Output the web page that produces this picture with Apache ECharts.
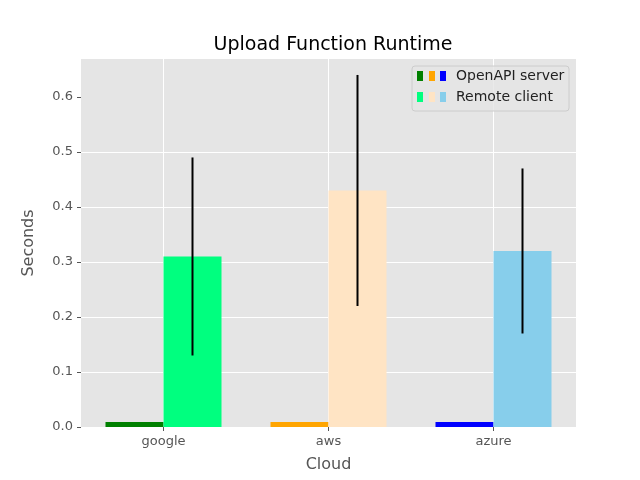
<!DOCTYPE html>
<html>
<head>
<meta charset="utf-8">
<script src="https://cdn.jsdelivr.net/npm/echarts@6/dist/echarts.min.js"></script>
<style>
  html, body { margin: 0; padding: 0; background: #fff; }
  #main { width: 640px; height: 480px; }
</style>
</head>
<body>
<div id="main"></div>
<script>
  // data
  var clouds = ['google', 'aws', 'azure'];
  var serverMean = [0.009, 0.009, 0.009];
  var clientMean = [0.31, 0.43, 0.32];
  var clientLow = [0.13, 0.22, 0.17];
  var clientHigh = [0.49, 0.64, 0.47];
  var yTicks = [0, 0.1, 0.2, 0.3, 0.4, 0.5, 0.6];
  var serverColors = ['#008000', '#ffa500', '#0000ff'];
  var clientColors = ['#00ff7f', '#ffe4c4', '#87ceeb'];

  var myChart = echarts.init(document.getElementById('main'));
  var font = 'DejaVu Sans';

  var errData = clouds.map(function (c, i) {
    return [i, clientLow[i], clientHigh[i]];
  });

  var option = {
    animation: false,
    title: {
      text: 'Upload Function Runtime',
      left: 328,
      top: 31,
      textAlign: 'center',
      textStyle: { color: '#000', fontSize: 19, fontWeight: 'normal', fontFamily: font }
    },
    grid: {
      left: 81, right: 64, top: 59, bottom: 53,
      show: true, backgroundColor: '#e5e5e5', borderWidth: 0
    },
    xAxis: {
      type: 'category',
      data: clouds,
      name: 'Cloud',
      nameLocation: 'middle',
      nameGap: 30,
      nameTextStyle: { color: '#555', fontSize: 16, fontFamily: font },
      axisLine: { show: false },
      axisTick: { show: true, alignWithLabel: true, length: 4, lineStyle: { color: '#555' } },
      axisLabel: { color: '#555', fontSize: 13, fontFamily: font, margin: 8 },
      splitLine: { show: true, alignWithLabel: true, lineStyle: { color: '#fff', width: 1 } }
    },
    yAxis: {
      type: 'value',
      min: 0,
      max: 0.669,
      interval: 0.1,
      name: 'Seconds',
      nameLocation: 'middle',
      nameGap: 44,
      nameTextStyle: { color: '#555', fontSize: 16, fontFamily: font },
      axisLine: { show: false },
      axisTick: { show: true, length: 4, customValues: yTicks, lineStyle: { color: '#555' } },
      axisLabel: {
        color: '#555', fontSize: 13, fontFamily: font, margin: 8,
        customValues: yTicks,
        formatter: function (v) { return v.toFixed(1); }
      },
      splitLine: { show: true, showMaxLine: false, lineStyle: { color: '#fff', width: 1 } }
    },
    series: [
      {
        name: 'OpenAPI server',
        type: 'bar',
        barWidth: 58,
        barGap: '0%',
        data: serverMean.map(function (v, i) {
          return { value: v, itemStyle: { color: serverColors[i] } };
        }),
        z: 2
      },
      {
        name: 'Remote client',
        type: 'bar',
        barWidth: 58,
        barGap: '0%',
        data: clientMean.map(function (v, i) {
          return { value: v, itemStyle: { color: clientColors[i] } };
        }),
        z: 2
      },
      {
        type: 'custom',
        z: 5,
        data: errData,
        renderItem: function (params, api) {
          var lo = api.coord([api.value(0), api.value(1)]);
          var hi = api.coord([api.value(0), api.value(2)]);
          var x = lo[0] + 29;
          return {
            type: 'line',
            shape: { x1: x, y1: lo[1], x2: x, y2: hi[1] },
            style: { stroke: '#000', lineWidth: 2 }
          };
        }
      }
    ],
    graphic: [
      { type: 'rect', shape: { x: 412, y: 66, width: 157, height: 45, r: 3 },
        style: { fill: 'rgba(229,229,229,0.8)', stroke: '#cccccc', lineWidth: 1 }, z: 10 },
      { type: 'rect', shape: { x: 417, y: 71, width: 6, height: 10 }, style: { fill: serverColors[0] }, z: 11 },
      { type: 'rect', shape: { x: 429, y: 71, width: 6, height: 10 }, style: { fill: serverColors[1] }, z: 11 },
      { type: 'rect', shape: { x: 440, y: 71, width: 6, height: 10 }, style: { fill: serverColors[2] }, z: 11 },
      { type: 'text', x: 456, y: 76, style: { text: 'OpenAPI server', fill: '#222', fontSize: 14, fontFamily: font, verticalAlign: 'middle' }, z: 11 },
      { type: 'rect', shape: { x: 417, y: 92, width: 6, height: 10 }, style: { fill: clientColors[0] }, z: 11 },
      { type: 'rect', shape: { x: 429, y: 92, width: 6, height: 10 }, style: { fill: clientColors[1] }, z: 11 },
      { type: 'rect', shape: { x: 440, y: 92, width: 6, height: 10 }, style: { fill: clientColors[2] }, z: 11 },
      { type: 'text', x: 456, y: 97, style: { text: 'Remote client', fill: '#222', fontSize: 14, fontFamily: font, verticalAlign: 'middle' }, z: 11 }
    ]
  };
  myChart.setOption(option);
</script>
</body>
</html>
